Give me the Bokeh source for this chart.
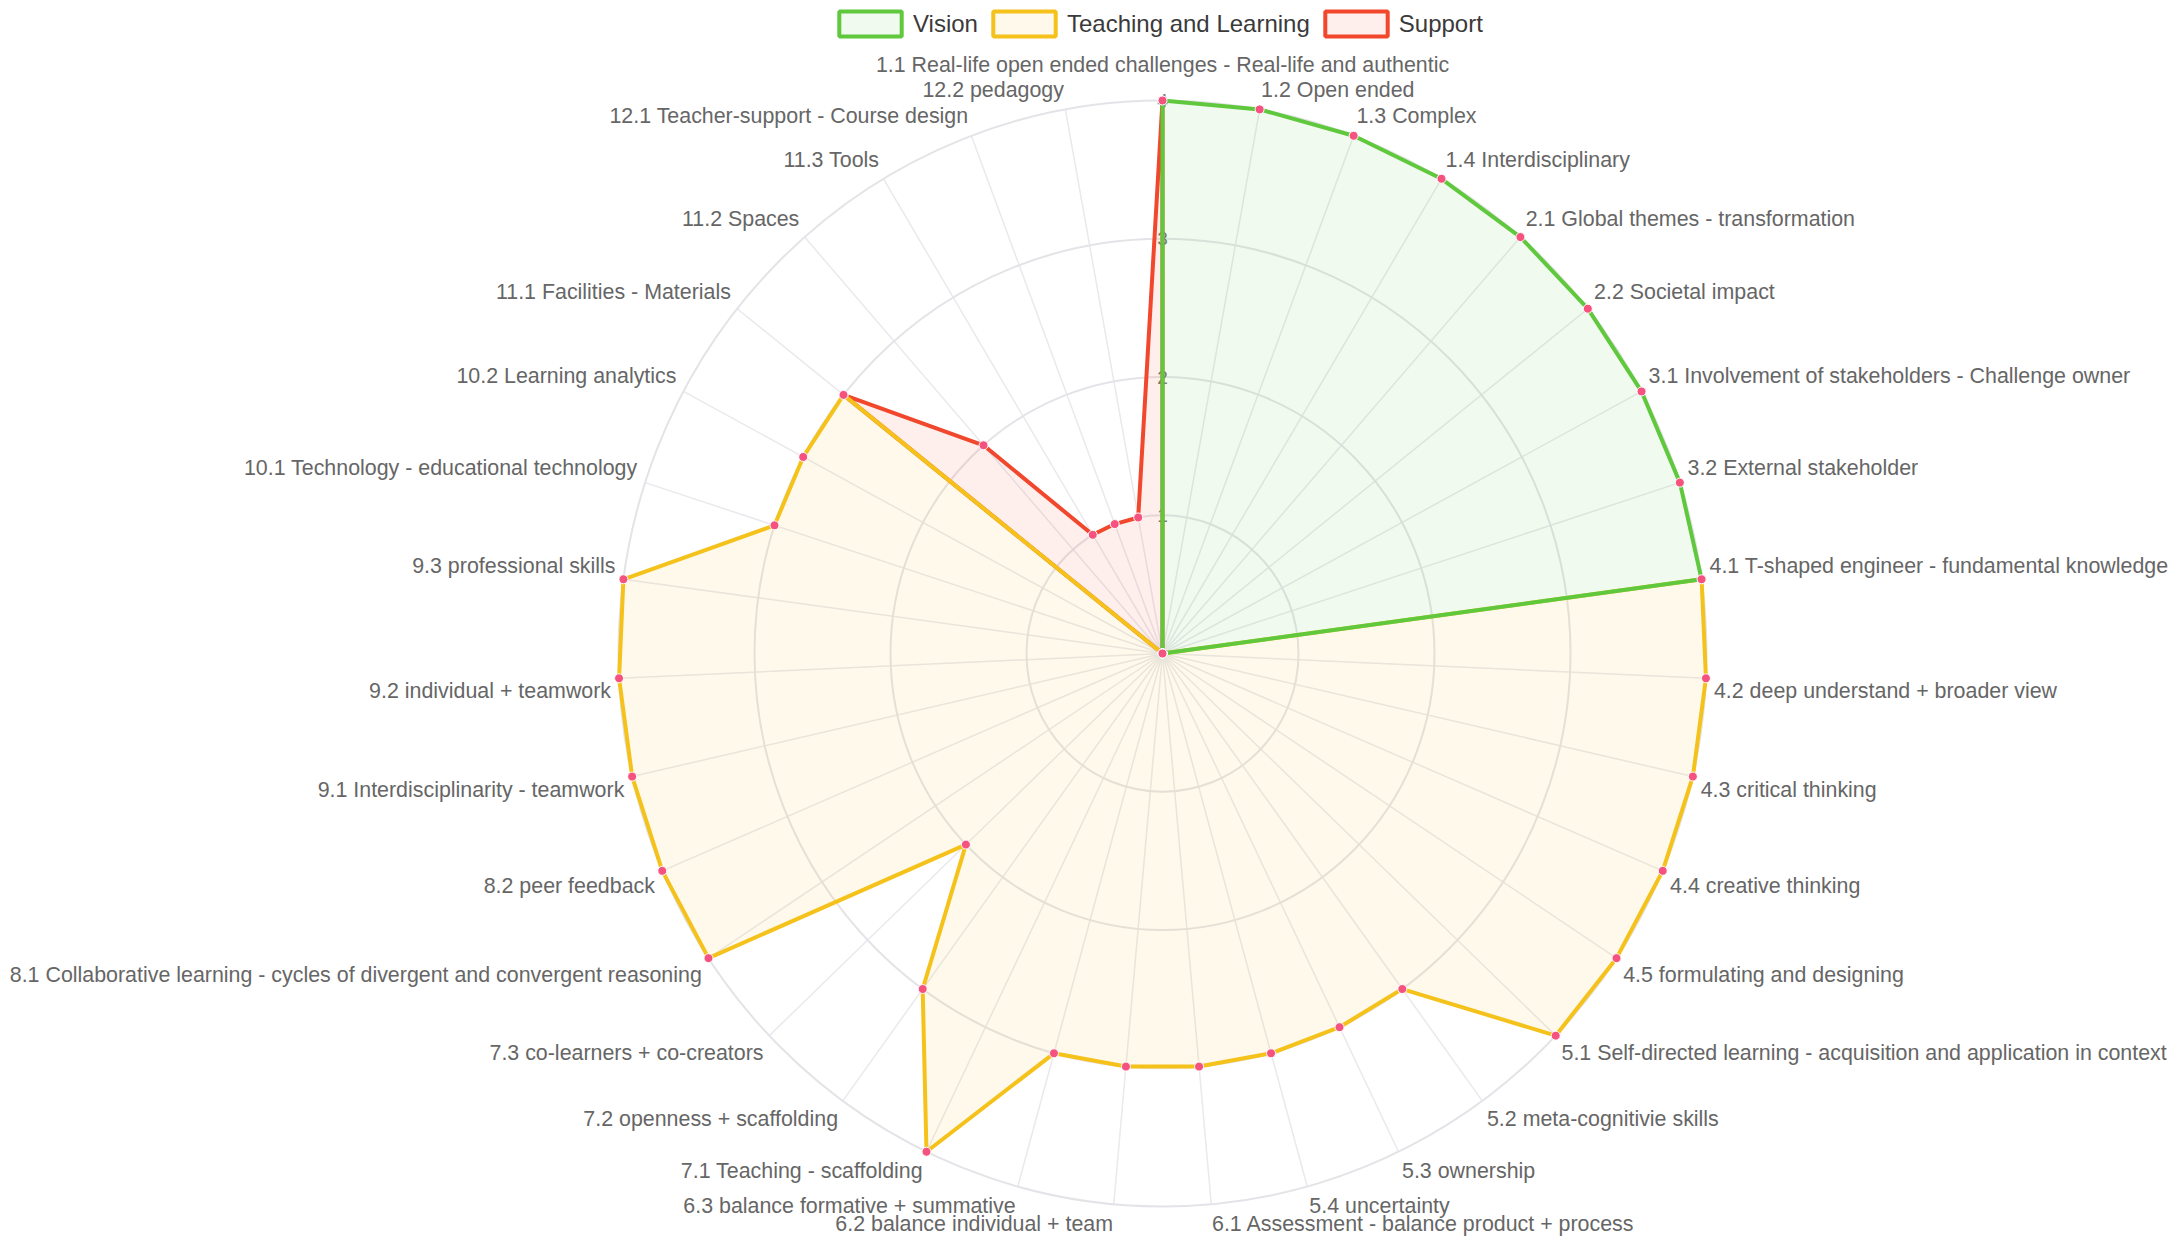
import math
from bokeh.plotting import figure
from bokeh.models import Legend, LegendItem, Range1d
from bokeh.core.properties import value
from bokeh.embed import file_html
from bokeh.resources import INLINE

categories = [
    "1.1 Real-life open ended challenges - Real-life and authentic",
    "1.2 Open ended",
    "1.3 Complex",
    "1.4 Interdisciplinary",
    "2.1 Global themes - transformation",
    "2.2 Societal impact",
    "3.1 Involvement of stakeholders - Challenge owner",
    "3.2 External stakeholder",
    "4.1 T-shaped engineer - fundamental knowledge",
    "4.2 deep understand + broader view",
    "4.3 critical thinking",
    "4.4 creative thinking",
    "4.5 formulating and designing",
    "5.1 Self-directed learning - acquisition and application in context",
    "5.2 meta-cognitivie skills",
    "5.3 ownership",
    "5.4 uncertainty",
    "6.1 Assessment - balance product + process",
    "6.2 balance individual + team",
    "6.3 balance formative + summative",
    "7.1 Teaching - scaffolding",
    "7.2 openness + scaffolding",
    "7.3 co-learners + co-creators",
    "8.1 Collaborative learning - cycles of divergent and convergent reasoning",
    "8.2 peer feedback",
    "9.1 Interdisciplinarity - teamwork",
    "9.2 individual + teamwork",
    "9.3 professional skills",
    "10.1 Technology - educational technology",
    "10.2 Learning analytics",
    "11.1 Facilities - Materials",
    "11.2 Spaces",
    "11.3 Tools",
    "12.1 Teacher-support - Course design",
    "12.2 pedagogy",
]

vision = [4, 4, 4, 4, 4, 4, 4, 4, 4,
          0, 0, 0, 0, 0, 0, 0, 0, 0, 0, 0, 0, 0, 0, 0, 0, 0, 0, 0, 0, 0, 0, 0, 0, 0, 0]
teaching = [0, 0, 0, 0, 0, 0, 0, 0,
            4, 4, 4, 4, 4, 4,
            3, 3, 3, 3, 3, 3,
            4, 3, 2,
            4, 4, 4, 4, 4,
            3, 3, 3,
            0, 0, 0, 0]
support = [4,
           0, 0, 0, 0, 0, 0, 0, 0, 0, 0, 0, 0, 0, 0, 0, 0, 0, 0, 0, 0, 0, 0, 0, 0, 0, 0, 0, 0, 0,
           3, 2, 1, 1, 1]

series_names = ["Vision", "Teaching and Learning", "Support"]
series_colors = ["#5fc83d", "#f5c21b", "#f0472d"]
tick_values = [1, 2, 3, 4]
tick_labels = ["1", "2", "3", "4"]
r_max = 4

W, H = 2177, 1239
CX, CY = 1162, 653
SX, SY = 136.0, 138.25

p = figure(width=W, height=H, output_backend="svg", toolbar_location=None,
           x_range=Range1d(-CX / SX, (W - CX) / SX),
           y_range=Range1d(-(H - CY) / SY, CY / SY),
           x_axis_location=None, y_axis_location=None,
           min_border=0, min_border_left=0, min_border_right=0,
           min_border_top=0, min_border_bottom=0)
p.grid.visible = False
p.outline_line_color = None
p.background_fill_color = "white"

N = len(categories)
ang = [2 * math.pi * i / N for i in range(N)]
sn = [math.sin(a) for a in ang]
cs = [math.cos(a) for a in ang]

# angle lines
p.segment(x0=[0] * N, y0=[0] * N, x1=[r_max * s for s in sn], y1=[r_max * c for c in cs],
          line_color="#e9e9ee", line_width=1.5)
# rings
p.ellipse(x=[0] * len(tick_values), y=[0] * len(tick_values),
          width=[2 * t for t in tick_values], height=[2 * t for t in tick_values],
          fill_color=None, line_color="#e4e4e8", line_width=2)
# tick labels
p.text(x=[0] * len(tick_values), y=tick_values, text=tick_labels,
       text_align="center", text_baseline="middle", text_font=value("Liberation Sans"),
       text_font_size="19px", text_color="#777777")

renderers = {}
for name, vals, col in [("Support", support, series_colors[2]),
                        ("Teaching and Learning", teaching, series_colors[1]),
                        ("Vision", vision, series_colors[0])]:
    xs = [v * s for v, s in zip(vals, sn)]
    ys = [v * c for v, c in zip(vals, cs)]
    r = p.patch(xs, ys, fill_color=col, fill_alpha=0.09, line_color=col, line_width=4)
    p.scatter(xs, ys, size=9, fill_color="#f5527f", line_color="white", line_width=1)
    renderers[name] = r

# point labels
groups = {}
for i, lab in enumerate(categories):
    deg = 360.0 * i / N
    if deg == 0 or deg == 180:
        align = "center"
    elif deg < 180:
        align = "left"
    else:
        align = "right"
    if deg == 90 or deg == 270:
        base = "middle"
    elif deg > 270 or deg < 90:
        base = "bottom"
    else:
        base = "top"
    pad = 24 if i == 0 else 8
    rx = r_max + pad / SX
    ry = r_max + pad / SY
    g = groups.setdefault((align, base), ([], [], []))
    g[0].append(rx * sn[i])
    g[1].append(ry * cs[i])
    g[2].append(lab)

for (align, base), (gx, gy, gt) in groups.items():
    p.text(x=gx, y=gy, text=gt, text_align=align, text_baseline=base,
           text_font=value("Liberation Sans"), text_font_size="21.4px", text_color="#666666")

legend = Legend(items=[LegendItem(label=n, renderers=[renderers[n]]) for n in series_names],
                orientation="horizontal", location=(831, H - 39),
                glyph_width=78, glyph_height=31, label_height=31,
                label_text_font="Liberation Sans", label_text_font_size="24px",
                label_text_color="#3a3a3a", spacing=7, label_standoff=4,
                padding=3, margin=0, border_line_color=None, background_fill_alpha=0)
p.add_layout(legend)

open("out.html", "w").write(file_html(p, INLINE))
